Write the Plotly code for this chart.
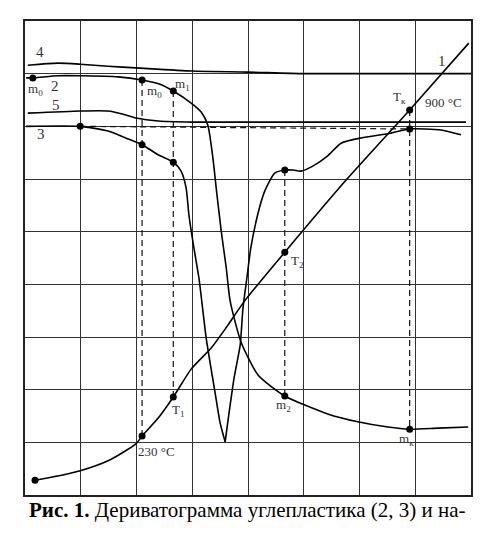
import plotly.graph_objects as go

# chart units: x 0..80, y 0..90 (10 units per grid division)
# curve 1 - temperature
t_x = [1.8, 5.9, 9.9, 14.9, 19.9, 21.0, 23.9, 26.6, 29.8, 33.4, 35.9, 39.5, 46.6, 57.6, 69.0, 79.6]
t_y = [2.8, 3.6, 4.6, 6.5, 9.7, 11.2, 14.6, 18.6, 23.9, 27.9, 31.5, 37.0, 46.1, 59.8, 73.1, 85.8]

# curve 2 - TG (mass)
tg_x = [0.2, 1.4, 5.9, 9.9, 16.7, 21.0, 24.2, 26.6, 29.8, 31.6, 32.8, 33.7, 34.4, 35.2, 36.1, 36.8,
        38.8, 41.8, 46.6, 54.3, 59.7, 65.1, 69.0, 74.1, 79.5]
tg_y = [79.2, 79.2, 79.6, 79.6, 79.4, 78.8, 78.0, 76.7, 74.4, 72.7, 70.2, 64.0, 57.3, 50.1, 43.1, 36.8,
        28.9, 22.8, 18.8, 15.4, 13.9, 12.9, 12.5, 12.7, 12.9]

# curve 3 - DTG, split at the minimum
dtg1_x = [0.2, 9.9, 14.9, 18.5, 21.0, 23.9, 26.6, 28.0, 28.9, 29.4, 30.3, 31.2, 32.5, 34.1, 35.0, 35.9]
dtg1_y = [70.0, 70.0, 69.1, 67.6, 66.5, 64.6, 63.2, 61.5, 58.3, 53.2, 46.9, 41.2, 29.8, 19.4, 13.7, 10.1]
dtg2_x = [35.9, 36.6, 37.5, 38.6, 39.1, 39.8, 40.5, 41.8, 43.0, 44.8, 46.6, 48.1, 49.5, 51.7, 54.3,
          56.7, 60.3, 65.6, 69.0, 74.6, 78.2]
dtg2_y = [10.1, 15.6, 22.2, 28.5, 35.5, 41.2, 46.9, 53.5, 57.7, 61.1, 61.7, 61.7, 61.5, 62.5, 64.4,
          66.8, 67.8, 68.7, 69.5, 69.3, 68.4]

# curve 4
c4_x = [0.5, 5.9, 9.9, 14.9, 19.9, 30.0, 40.0, 50.2, 80.0]
c4_y = [81.6, 82.0, 81.8, 81.4, 81.1, 80.5, 80.3, 80.0, 80.0]

# curve 5
c5_x = [0.5, 9.9, 14.9, 17.6, 19.9, 23.9, 30.0, 40.0, 79.1]
c5_y = [72.5, 72.9, 72.9, 72.3, 71.6, 71.0, 70.8, 70.8, 70.8]

# marked points
tg_pts_x = [1.4, 21.0, 26.6, 46.6, 69.0]
tg_pts_y = [79.2, 78.8, 76.7, 18.8, 12.5]
dtg_pts_x = [9.9, 21.0, 26.6, 46.6, 69.0]
dtg_pts_y = [70.0, 66.5, 63.2, 61.7, 69.5]
t_pts_x = [1.8, 21.0, 26.6, 46.6, 69.0]
t_pts_y = [2.8, 11.2, 18.6, 46.1, 73.1]

# dashed guides: x, top, bottom
guide_x = [21.0, 26.6, 46.6, 69.0]
guide_top = [78.8, 76.7, 61.7, 73.1]
guide_bot = [11.2, 18.6, 18.8, 12.5]

labels = [
    ("4", 2.7, 84.1, 15), ("2", 5.4, 77.7, 15), ("m<sub>0</sub>", 1.9, 76.9, 13),
    ("5", 5.6, 74.0, 15), ("3", 2.9, 68.5, 15), ("m<sub>0</sub>", 23.2, 76.6, 13),
    ("m<sub>1</sub>", 28.2, 78.0, 13), ("1", 74.8, 82.4, 15), ("T<sub>к</sub>", 67.1, 75.4, 13),
    ("900 °C", 75.1, 74.6, 13), ("T<sub>2</sub>", 48.8, 44.4, 13), ("T<sub>1</sub>", 27.5, 16.1, 13),
    ("230 °C", 23.6, 8.2, 13), ("m<sub>2</sub>", 46.4, 16.9, 13), ("m<sub>к</sub>", 68.4, 10.6, 13),
]

serif = "Liberation Serif, Times New Roman, serif"

fig = go.Figure()
line = dict(color="black", width=1.6, shape="spline", smoothing=0.6)
for xs, ys in [(t_x, t_y), (tg_x, tg_y), (dtg1_x, dtg1_y), (dtg2_x, dtg2_y), (c4_x, c4_y), (c5_x, c5_y)]:
    fig.add_trace(go.Scatter(x=xs, y=ys, mode="lines", line=line, hoverinfo="skip"))

dash = dict(color="#111", width=1.2, dash="6px,4px")
for gx, top, bot in zip(guide_x, guide_top, guide_bot):
    fig.add_trace(go.Scatter(x=[gx, gx], y=[top, bot], mode="lines", line=dash, hoverinfo="skip"))
fig.add_trace(go.Scatter(x=[dtg_pts_x[0], dtg_pts_x[-1]], y=[dtg_pts_y[0], dtg_pts_y[-1]],
                         mode="lines", line=dash, hoverinfo="skip"))

for xs, ys in [(tg_pts_x, tg_pts_y), (dtg_pts_x, dtg_pts_y), (t_pts_x, t_pts_y)]:
    fig.add_trace(go.Scatter(x=xs, y=ys, mode="markers", marker=dict(color="black", size=7),
                             hoverinfo="skip"))

for text, lx, ly, size in labels:
    fig.add_annotation(x=lx, y=ly, text=text, showarrow=False,
                       font=dict(family=serif, size=size, color="#333"))

fig.add_annotation(x=0.497, y=(535 - 516) / 535, xref="paper", yref="paper", showarrow=False,
                   text="<b>Рис. 1.</b> Дериватограмма углепластика (2, 3) и на-",
                   font=dict(family=serif, size=21, color="black"))

axis = dict(showticklabels=False, ticks="", zeroline=False, showgrid=True, gridcolor="#333",
            gridwidth=1, dtick=10, showline=True, mirror=True, linecolor="#222", linewidth=2)
fig.update_xaxes(axis, range=[0, 80], domain=[17 / 481, 463 / 481])
fig.update_yaxes(axis, range=[0, 90], domain=[(535 - 487) / 535, (535 - 13) / 535])
fig.update_layout(width=481, height=535, margin=dict(l=0, r=0, t=0, b=0),
                  paper_bgcolor="white", plot_bgcolor="white", showlegend=False)

fig.write_html("out.html")
